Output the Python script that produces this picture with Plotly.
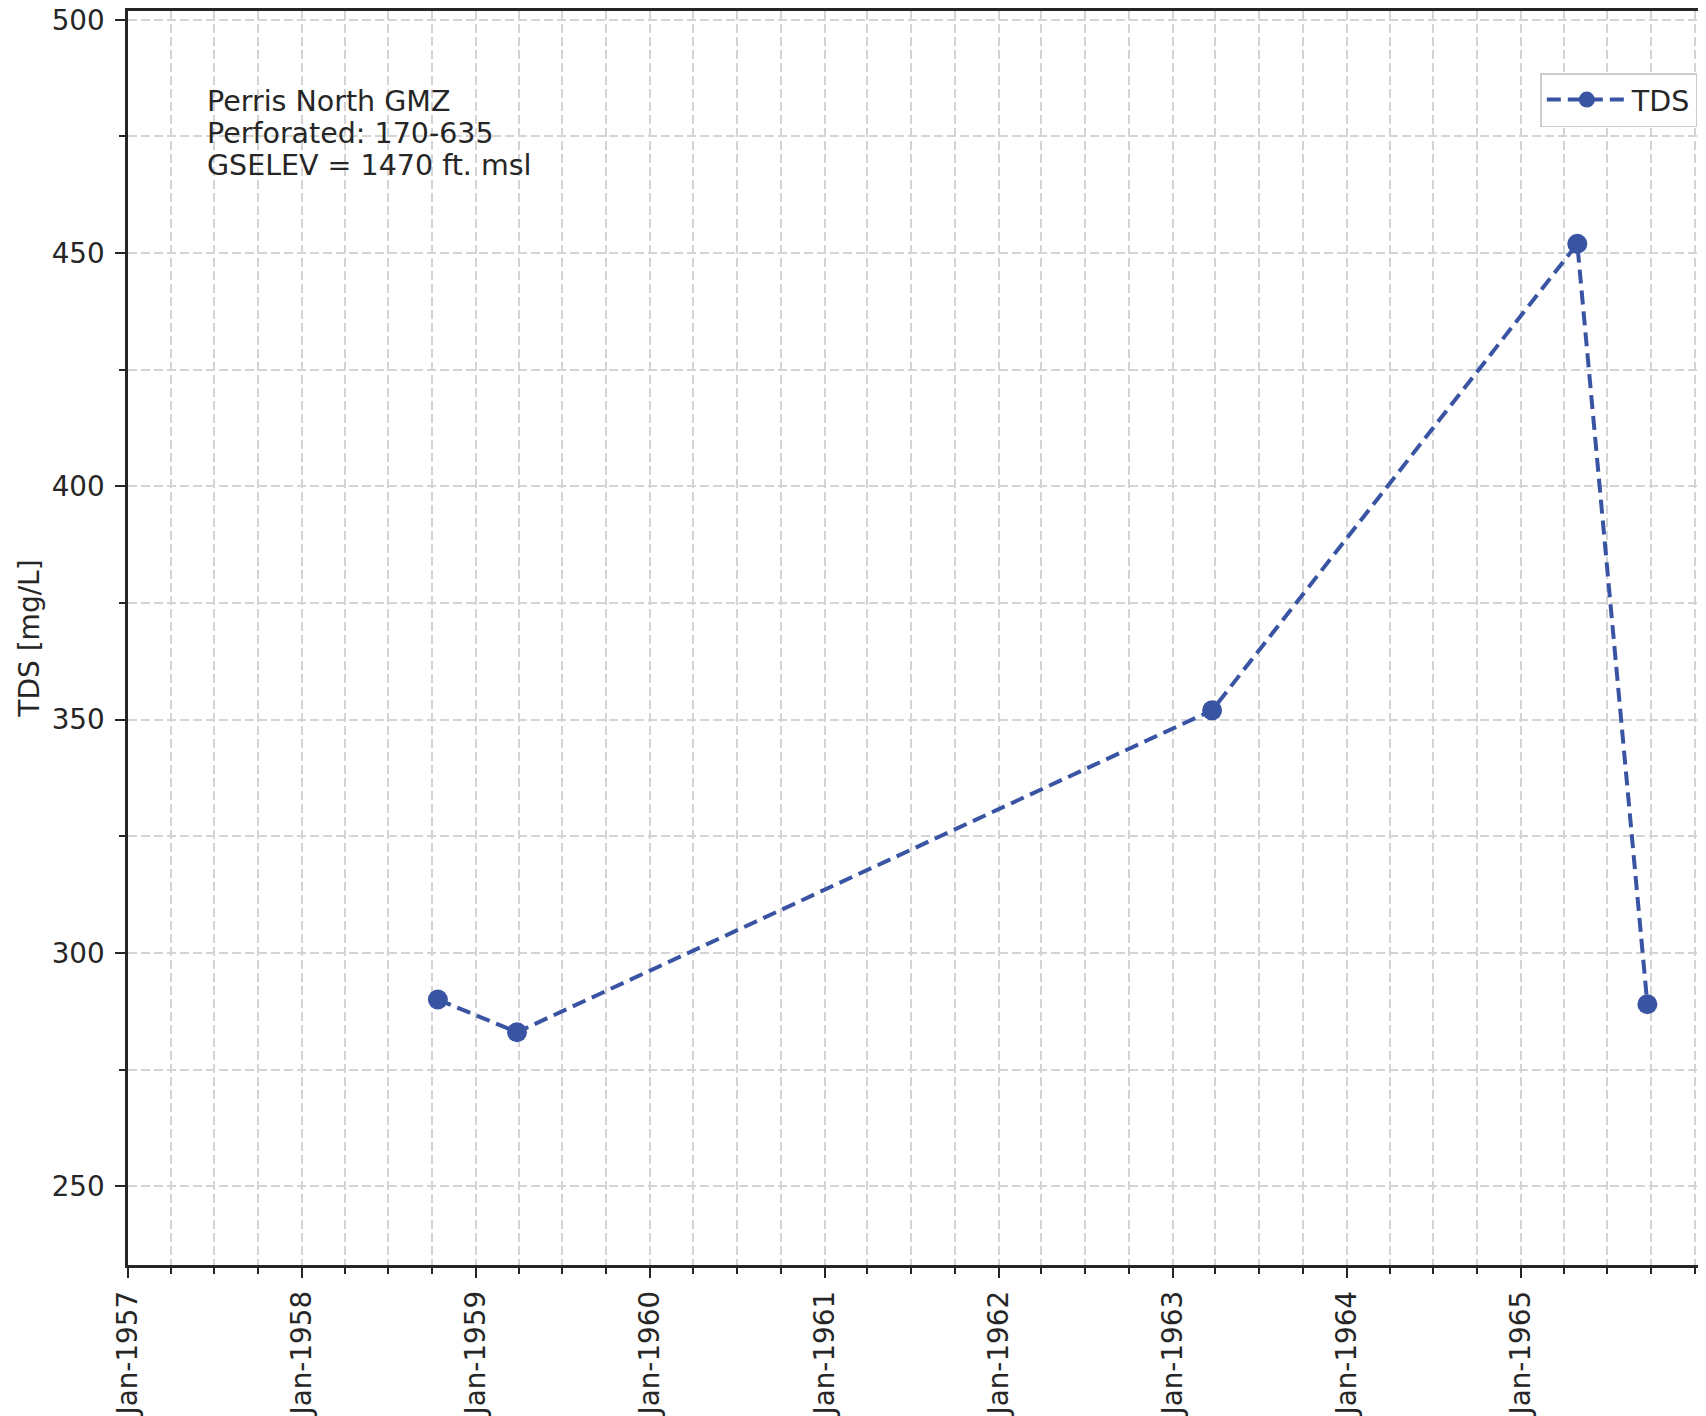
import plotly.graph_objects as go

# ---- data ----
dates = ["1958-10-13", "1959-03-28", "1963-03-25", "1965-04-29", "1965-09-23"]
tds_values = [290, 283, 352, 452, 289]
series_name = "TDS"
info_lines = ["Perris North GMZ", "Perforated: 170-635", "GSELEV = 1470 ft. msl"]
y_title = "TDS [mg/L]"
x_tick_years = [1957, 1958, 1959, 1960, 1961, 1962, 1963, 1964, 1965]
x_tick_vals = [f"{y}-01-01" for y in x_tick_years]
x_tick_text = [f"Jan-{y}" for y in x_tick_years]

# ---- style ----
# the page body has an 8px default margin, so the figure is offset by 8px
W, H = 1698, 1408
L, R, T, B = 120, 0, 3, 151
font_family = "DejaVu Sans"
txt_color = "#262626"
blue = "#3a54a4"
grid_color = "#d4d4d4"
tick_fs = 27.8
text_fs = 28.5

fig = go.Figure()
fig.add_trace(go.Scatter(
    x=dates, y=tds_values, name=series_name, mode="lines+markers",
    line=dict(color=blue, width=4, dash="14px,7px"),
    marker=dict(color=blue, size=20),
    showlegend=True,
))

grid_common = dict(gridcolor=grid_color, gridwidth=1.8, griddash="9px,4px")

fig.update_xaxes(
    type="date",
    range=["1957-01-01", "1966-01-24"],
    tickmode="array", tickvals=x_tick_vals, ticktext=x_tick_text,
    tickangle=-90,
    ticks="outside", ticklen=10, tickwidth=2, tickcolor=txt_color,
    ticklabelstandoff=2,
    ticklabeloverflow="allow",
    tickfont=dict(family=font_family, size=tick_fs, color=txt_color),
    showline=True, linecolor=txt_color, linewidth=2.5, mirror=True,
    showgrid=True, **grid_common,
    minor=dict(dtick="M3", tick0="1957-01-01", ticks="outside", ticklen=6,
               tickwidth=1.5, tickcolor=txt_color, showgrid=True,
               gridcolor=grid_color, gridwidth=1.8, griddash="9px,4px"),
    zeroline=False,
)
fig.update_yaxes(
    range=[233.1, 501.9],
    tick0=250, dtick=50,
    ticks="outside", ticklen=10, tickwidth=2, tickcolor=txt_color,
    ticklabelstandoff=5,
    ticklabeloverflow="allow",
    tickfont=dict(family=font_family, size=tick_fs, color=txt_color),
    showline=True, linecolor=txt_color, linewidth=2.5, mirror=False,
    showgrid=True, **grid_common,
    minor=dict(dtick=25, tick0=250, ticks="outside", ticklen=6,
               tickwidth=1.5, tickcolor=txt_color, showgrid=True,
               gridcolor=grid_color, gridwidth=1.8, griddash="9px,4px"),
    zeroline=False,
    title=dict(text=y_title, font=dict(family=font_family, size=28, color=txt_color),
               standoff=4),
)

line_y = [0.9276, 0.9023, 0.8770]
for txt, yy in zip(info_lines, line_y):
    fig.add_annotation(
        text=txt, xref="paper", yref="paper", x=0.0486, y=yy,
        xanchor="left", yanchor="middle", showarrow=False,
        font=dict(family=font_family, size=text_fs, color=txt_color),
    )

fig.update_layout(
    width=W, height=H,
    margin=dict(l=L, r=R, t=T, b=B, autoexpand=False),
    paper_bgcolor="white", plot_bgcolor="white",
    font=dict(family=font_family, color=txt_color),
    legend=dict(
        x=0.9945, y=0.9505, xanchor="right", yanchor="top",
        bgcolor="white", bordercolor="#cccccc", borderwidth=1.5,
        font=dict(family=font_family, size=text_fs, color=txt_color),
        itemwidth=80,
    ),
)

fig.write_html("out.html")
